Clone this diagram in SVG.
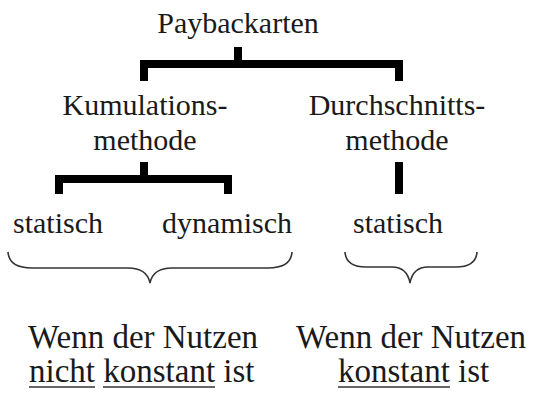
<svg xmlns="http://www.w3.org/2000/svg" width="538" height="394" viewBox="0 0 538 394">
  <style>
    text { font-family: 'Liberation Serif', 'DejaVu Serif', serif; fill: #1a1a1a; }
    .m { font-size: 30px; text-anchor: middle; }
    .b { font-size: 33px; }
    .bar { fill: none; stroke: #000; stroke-width: 8; stroke-linejoin: miter; stroke-linecap: butt; }
    .brace { fill: none; stroke: #333; stroke-width: 1.6; }
    .ul { stroke: #333; stroke-width: 1.6; }
  </style>
  <rect width="538" height="394" fill="#fff"/>

  <g id="connectors">
    <path class="bar" d="M238,47 V64 M144,81 V64 H399 V81"/>
    <path class="bar" d="M144,162 V179 M59,194 V179 H228 V194"/>
    <path class="bar" d="M399,162 V194" stroke-linecap="round"/>
    <path class="brace" d="M8,252 Q9,268 32,268 L128,268 Q147,268 150,283 Q153,268 172,268 L268,268 Q291,268 292,252"/>
    <path class="brace" d="M345,252 Q346,267 366,267 L392,267 Q407,267 410,283 Q413,267 428,267 L456,267 Q476,267 477,252"/>
  </g>

  <g id="paybackarten">
    <text class="m" x="238" y="33">Paybackarten</text>
  </g>
  <g id="kumulationsmethode">
    <text class="m" x="145" y="115">Kumulations-</text>
    <text class="m" x="145" y="150">methode</text>
  </g>
  <g id="durchschnittsmethode">
    <text class="m" x="397" y="115">Durchschnitts-</text>
    <text class="m" x="397" y="150">methode</text>
  </g>
  <g id="statisch-kumulation">
    <text class="m" x="58" y="233">statisch</text>
  </g>
  <g id="dynamisch-kumulation">
    <text class="m" x="227" y="233">dynamisch</text>
  </g>
  <g id="statisch-durchschnitt">
    <text class="m" x="398" y="233">statisch</text>
  </g>

  <g id="nutzen-nicht-konstant">
    <text class="b" x="28" y="348">Wenn der Nutzen</text>
    <text class="b" x="29" y="382">nicht konstant ist</text>
    <line class="ul" x1="29" y1="387" x2="95" y2="387"/>
    <line class="ul" x1="103" y1="387" x2="215" y2="387"/>
  </g>
  <g id="nutzen-konstant">
    <text class="b" x="296" y="348">Wenn der Nutzen</text>
    <text class="b" x="338" y="382">konstant ist</text>
    <line class="ul" x1="338" y1="387" x2="450" y2="387"/>
  </g>
</svg>
